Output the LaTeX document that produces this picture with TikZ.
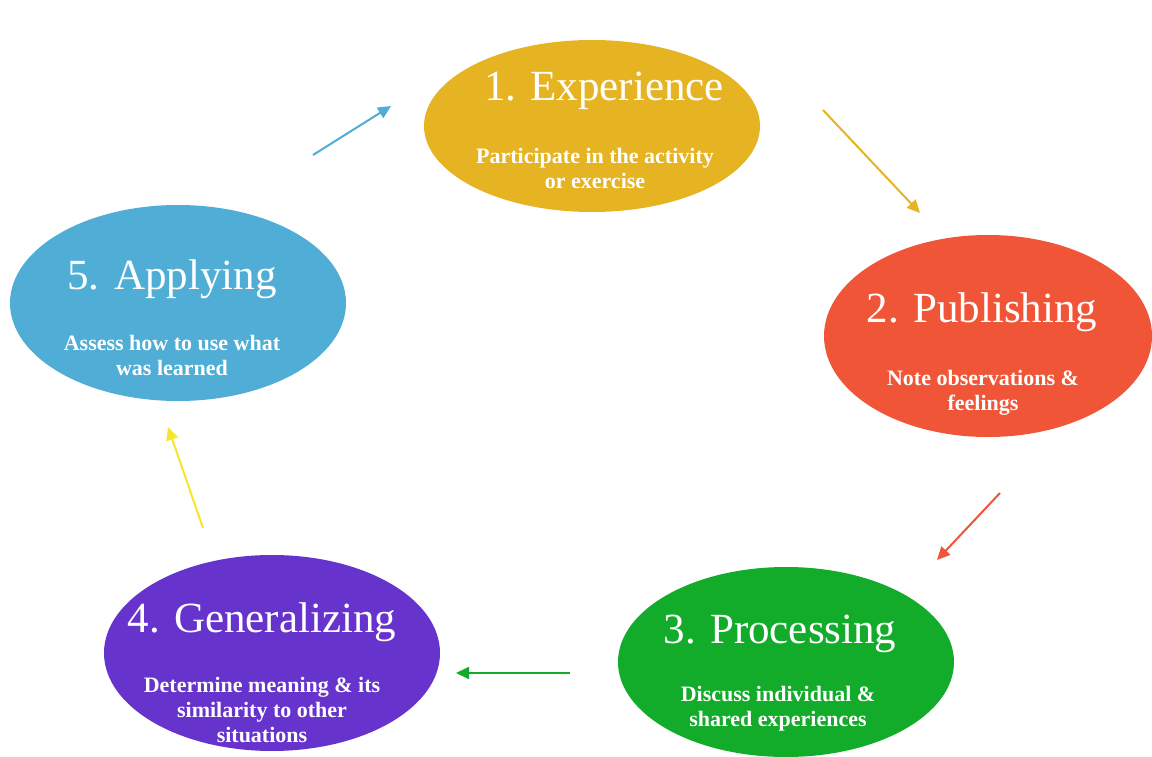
\documentclass[tikz,border=0pt]{standalone}
\usepackage{fontspec}
\setmainfont{Liberation Serif}
\usetikzlibrary{arrows.meta}
\definecolor{cexp}{HTML}{E6B323}
\definecolor{cpub}{HTML}{F05537}
\definecolor{cpro}{HTML}{12AB2A}
\definecolor{cgen}{HTML}{6633CC}
\definecolor{capp}{HTML}{4FADD6}
\definecolor{cyel}{HTML}{F5E62A}
\tikzset{
  blob/.style={fill=#1, draw=none},
  ttl/.style={text=white, font=\fontsize{43}{48}\selectfont, inner sep=0pt},
  sub/.style={text=white, font=\fontsize{22}{25}\bfseries\selectfont, align=center, inner sep=0pt},
  arr/.style={draw=#1, line width=2pt, -{Triangle[length=13pt,width=12pt]}},
}
\begin{document}
\begin{tikzpicture}[x=1pt,y=-1pt]
\useasboundingbox (0,0) rectangle (1152,757);
\fill[white] (0,0) rectangle (1152,757);
% ellipses
\path[blob=cexp] (592,126) ellipse [x radius=168, y radius=86];
\path[blob=cpub] (988,336) ellipse [x radius=164, y radius=101];
\path[blob=cpro] (786,662) ellipse [x radius=168, y radius=95];
\path[blob=cgen] (272,653) ellipse [x radius=168, y radius=98];
\path[blob=capp] (178,303) ellipse [x radius=168, y radius=98];
% titles
\node[ttl] (t1) at (604,91) {1. Experience};
\node[ttl] (t2) at (982,312) {2. Publishing};
\node[ttl] (t3) at (780,634) {3. Processing};
\node[ttl] (t4) at (262,622) {4. Generalizing};
\node[ttl] (t5) at (172,279) {5. Applying};
% subtitles
\node[sub] (s1) at (595,168) {Participate in the activity\\or exercise};
\node[sub] (s2) at (983,393) {Note observations \&\\feelings};
\node[sub] (s3) at (778,709) {Discuss individual \&\\shared experiences};
\node[sub] (s4) at (262,710) {Determine meaning \&\ its\\similarity to other\\situations};
\node[sub] (s5) at (172,355) {Assess how to use what\\was learned};
% arrows
\coordinate (a1s) at (313,155); \coordinate (a1e) at (391,106);
\coordinate (a2s) at (823,110); \coordinate (a2e) at (920,213);
\coordinate (a3s) at (1000,493); \coordinate (a3e) at (937,560);
\coordinate (a4s) at (570,673); \coordinate (a4e) at (456,673);
\coordinate (a5s) at (203,528); \coordinate (a5e) at (168,427);
\draw[arr=capp] (a1s) -- (a1e);
\draw[arr=cexp] (a2s) -- (a2e);
\draw[arr=cpub] (a3s) -- (a3e);
\draw[arr=cpro] (a4s) -- (a4e);
\draw[arr=cyel] (a5s) -- (a5e);
\end{tikzpicture}
\end{document}
